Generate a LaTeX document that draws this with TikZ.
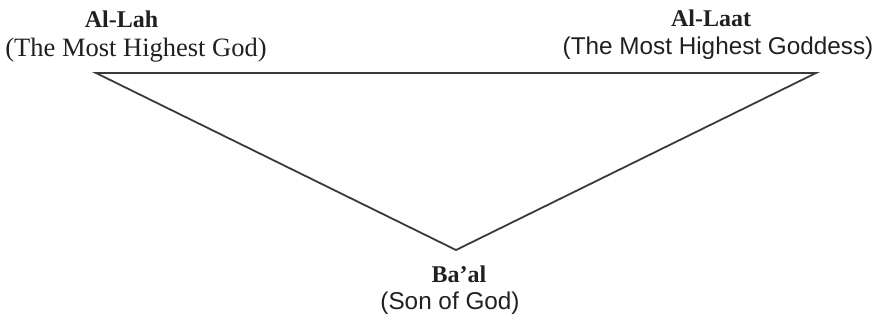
\documentclass[tikz,border=0pt]{standalone}
\usepackage{fontspec}
\setmainfont{Liberation Serif}
\newfontfamily\arialf{Liberation Sans}
\definecolor{ink}{HTML}{231F20}
\definecolor{edge}{HTML}{3A3A3A}
\begin{document}
\begin{tikzpicture}[x=1pt,y=-1pt,
  title/.style={anchor=base,inner sep=0pt,text=ink,font=\fontsize{24}{26}\selectfont\bfseries},
  subserif/.style={anchor=base,inner sep=0pt,text=ink,font=\fontsize{26.5}{28}\selectfont},
  subsans/.style={anchor=base,inner sep=0pt,text=ink,font=\arialf\fontsize{24.3}{27}\selectfont},
  edgeline/.style={draw=edge,line width=1.8pt,line join=miter}]
\useasboundingbox (0,0) rectangle (880,320);
\node[title] (lah) at (121.5,28) {Al-Lah};
\node[subserif] (lahsub) at (136,57) {(The Most Highest God)};
\node[title] (laat) at (711,27) {Al-Laat};
\node[subsans] (laatsub) at (718,55) {(The Most Highest Goddess)};
\node[title] (baal) at (459,282) {Ba’al};
\node[subsans] (baalsub) at (450,309) {(Son of God)};
\coordinate (L) at (96,73);
\coordinate (R) at (816,73);
\coordinate (B) at (456,250);
\draw[edgeline] (L) -- (R) -- (B) -- cycle;
\end{tikzpicture}
\end{document}
